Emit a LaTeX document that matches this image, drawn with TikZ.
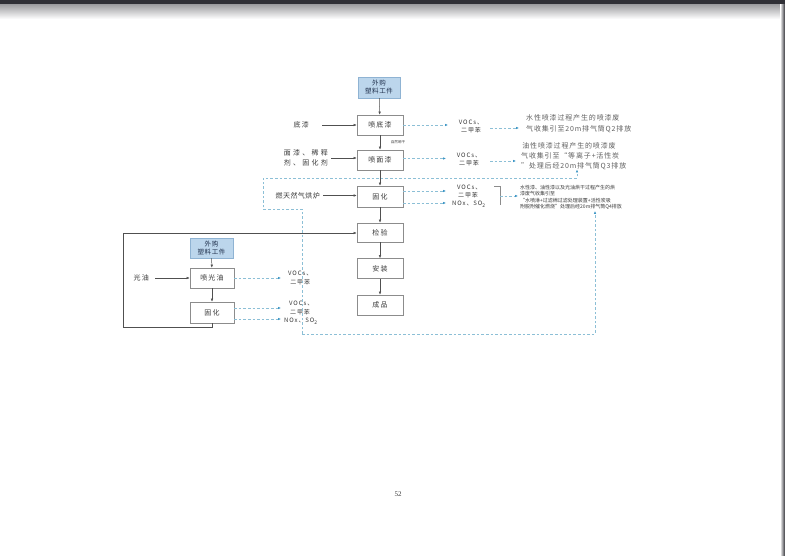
\documentclass[tikz,border=0pt]{standalone}
\usepackage{fontspec}
\setmainfont{Liberation Serif}
\newfontfamily\cjk{Noto Sans CJK SC}
\usetikzlibrary{arrows.meta,positioning}
\definecolor{boxgray}{HTML}{8C8C8C}
\definecolor{linegray}{HTML}{505050}
\definecolor{buyblue}{HTML}{BCD6EC}
\definecolor{buyedge}{HTML}{8FB3D3}
\definecolor{buytext}{HTML}{1E2E4A}
\definecolor{dashblue}{HTML}{8CBFD6}
\definecolor{dotblue}{HTML}{3F97C6}
\definecolor{txtgray}{HTML}{3A3A3A}
\definecolor{scandark}{HTML}{303036}
\tikzset{
  procbox/.style={draw=boxgray, line width=0.5pt, fill=white, minimum width=46pt,
    minimum height=20pt, inner sep=0pt, text=txtgray,
    font=\cjk\fontsize{7}{8}\selectfont\addfontfeature{LetterSpace=15}},
  buybox/.style={procbox, fill=buyblue, draw=buyedge, minimum width=42pt,
    minimum height=21pt, align=center, text=buytext,
    font=\cjk\fontsize{6.5}{8}\selectfont\addfontfeature{LetterSpace=10}},
  flow/.style={draw=linegray, line width=0.5pt, -{Latex[length=3.2pt,width=2.6pt]}},
  gasline/.style={draw=dashblue, line width=0.6pt, dash pattern=on 2.6pt off 2pt},
  gas/.style={gasline, -{Latex[length=3pt,width=2.6pt,color=dotblue]}},
  lbl/.style={font=\cjk\fontsize{7}{10}\selectfont\addfontfeature{LetterSpace=18},
    text=txtgray, inner sep=0pt, align=left},
  voc/.style={font=\cjk\fontsize{6}{8.5}\selectfont\addfontfeature{LetterSpace=15},
    text=txtgray, inner sep=0pt, align=center},
  vocw/.style={voc, anchor=west},
  note/.style={font=\cjk\fontsize{7}{10}\selectfont\addfontfeature{LetterSpace=12},
    text=txtgray!80, inner sep=0pt, align=left, anchor=west},
  smallnote/.style={font=\cjk\fontsize{5}{6.4}\selectfont,
    text=txtgray, inner sep=0pt, align=left, anchor=west}
}
\begin{document}
\begin{tikzpicture}[x=1pt,y=-1pt]
\useasboundingbox (0,0) rectangle (785,556);
\fill[white] (0,0) rectangle (785,556);
% scan edges
\fill[scandark] (0,0) rectangle (785,5);
\shade[top color=scandark!45, bottom color=white] (0,5) rectangle (785,19);
\shade[left color=white, right color=scandark] (780,5) rectangle (785,556);

% main column
\node[buybox] (buy1) at (379,87.5) {外购\\塑料工件};
\node[procbox] (s1) at (380,125) {喷底漆};
\node[procbox] (s2) at (380,160) {喷面漆};
\node[procbox, minimum height=21pt] (cure) at (380,196.5) {固化};
\node[procbox, minimum height=19pt] (insp) at (380,232.5) {检验};
\node[procbox] (asm) at (380,268.5) {安装};
\node[procbox] (prod) at (380,305) {成品};

% side column
\node[buybox, minimum width=43pt, minimum height=20pt] (buy2) at (211.5,248) {外购\\塑料工件};
\node[procbox, minimum width=44pt] (gloss) at (212,278) {喷光油};
\node[procbox, minimum width=44pt, minimum height=21pt] (cure2) at (212,312.5) {固化};

% main flow
\draw[flow] (buy1) -- (s1);
\draw[flow] (s1) -- (s2);
\draw[flow] (s2) -- (cure);
\draw[flow] (cure) -- (insp);
\draw[flow] (insp) -- (asm);
\draw[flow] (asm) -- (prod);
\draw[flow] (buy2) -- (gloss);
\draw[flow] (gloss) -- (cure2);

% inputs
\node[lbl, anchor=east] (in1) at (309,125) {底漆};
\coordinate (in1e) at (322,125);
\draw[flow] (in1e) -- (s1.west);
\node[lbl, anchor=east, font=\cjk\fontsize{7}{10.5}\selectfont\addfontfeature{LetterSpace=32}] (in2) at (328,158) {面漆、稀释\\剂、固化剂};
\coordinate (in2e) at (331,158);
\draw[flow] (in2e) -- (s2.west |- in2e);
\node[lbl, anchor=east, font=\cjk\fontsize{7}{10}\selectfont\addfontfeature{LetterSpace=6}] (in3) at (320,195.5) {燃天然气烘炉};
\coordinate (in3e) at (323,195.5);
\draw[flow] (in3e) -- (cure.west |- in3e);
\node[lbl, anchor=east] (in4) at (149,278) {光油};
\coordinate (in4e) at (155,278);
\draw[flow] (in4e) -- (gloss.west);

% tiny label between s1 and s2
\node[font=\cjk\fontsize{3.6}{4}\selectfont, text=txtgray, inner sep=0pt] (tiny) at (398,142.5) {自然晾干};

% loop back to inspection
\coordinate (lp1) at (212,327);
\coordinate (lp2) at (123,327);
\coordinate (lp3) at (123,233);
\draw[flow] (cure2.south) -- (lp1) -- (lp2) -- (lp3) -- (insp.west |- lp3);

% gas outputs of s1
\coordinate (g1a) at (448,125);
\draw[gas] (s1.east) -- (g1a);
\node[voc] (v1) at (471,126.5) {VOCs、\\二甲苯};
\coordinate (g1b) at (490,128);
\coordinate (g1c) at (519,128);
\draw[gas] (g1b) -- (g1c);
\node[note] (n1) at (526,123.5) {水性喷漆过程产生的喷漆废\\[1pt]气收集引至20m排气筒Q2排放};

% gas outputs of s2
\coordinate (g2a) at (446,158.5);
\draw[gas] (s2.east |- g2a) -- (g2a);
\node[voc] (v2) at (469,159.5) {VOCs、\\二甲苯};
\coordinate (g2b) at (490,161);
\coordinate (g2c) at (516,161);
\draw[gas] (g2b) -- (g2c);
\node[note] (n2) at (521,156) {\,油性喷漆过程产生的喷漆废\\气收集引至“等离子+活性炭\\”处理后经20m排气筒Q3排放};

% gas outputs of cure
\coordinate (g3a) at (446,191);
\coordinate (g3b) at (446,203);
\draw[gas] (cure.east |- g3a) -- (g3a);
\draw[gas] (cure.east |- g3b) -- (g3b);
\node[vocw] (v3a) at (457,187) {VOCs、};
\node[vocw] (v3b) at (458,195.5) {二甲苯};
\node[vocw] (v3c) at (452,204.5) {NOx、SO\textsubscript{2}};
\coordinate (br1) at (494,186.5);
\coordinate (br2) at (500,186.5);
\coordinate (br3) at (500,205);
\draw[boxgray, line width=0.4pt] (br1) -- (br2) -- (br3);
\coordinate (g3c) at (500,196);
\coordinate (g3d) at (518,196);
\draw[gas] (g3c) -- (g3d);
\node[smallnote] (n3) at (520,197.5) {水性漆、油性漆以及光油烘干过程产生的烘\\漆废气收集引至\\“水喷淋+过滤棉过滤处理装置+活性炭吸\\附脱附催化燃烧”处理后经20m排气筒Q4排放};

% gas outputs of gloss and cure2
\coordinate (g4a) at (281,278);
\draw[gas] (gloss.east) -- (g4a);
\node[voc, anchor=west] (v4) at (288,278) {VOCs、\\二甲苯};
\coordinate (g5a) at (281,308);
\coordinate (g5b) at (281,319);
\draw[gas] (cure2.east |- g5a) -- (g5a);
\draw[gas] (cure2.east |- g5b) -- (g5b);
\node[vocw] (v5a) at (289,303) {VOCs、};
\node[vocw] (v5b) at (290,312) {二甲苯};
\node[vocw] (v5c) at (284,321) {NOx、SO\textsubscript{2}};

% dashed collection network
\coordinate (d1) at (302,334);
\coordinate (d2) at (302,209);
\coordinate (d3) at (263,209);
\coordinate (d4) at (263,178);
\coordinate (d5) at (577,178);
\coordinate (d6) at (577,169.5);
\coordinate (d7) at (595,334);
\coordinate (d8) at (595,211);
\draw[gas] (d1) -- (d2) -- (d3) -- (d4) -- (d5) -- (d6);
\draw[gas] (d1) -- (d7) -- (d8);

% page number
\node[font=\fontsize{7}{8}\selectfont, text=txtgray, inner sep=0pt] (pg) at (398,494.5) {52};
\end{tikzpicture}
\end{document}
